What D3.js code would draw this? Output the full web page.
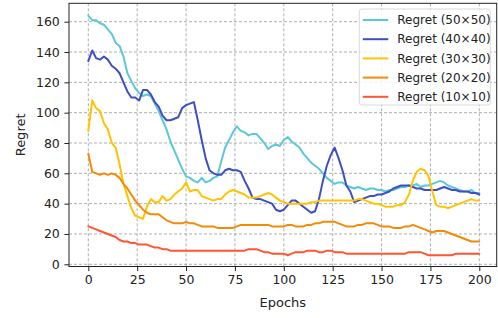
<!DOCTYPE html>
<html>
<head>
<meta charset="utf-8">
<script src="https://cdn.jsdelivr.net/npm/d3@7"></script>
<style>
  body { margin: 0; background: #fff; }
  svg { display: block; font-family: "DejaVu Sans", sans-serif; }
</style>
</head>
<body>
<svg id="chart"></svg>
<script>
// values read every 2 epochs (0, 2, ..., 200)
var epochs = d3.range(0, 201, 2);

var regret50 = [164,161,161,159,158,155,152,146,144,137,126,121,116,113,111,112,111,106,101,95,
  89,81,75,69,63,58,57,55,54,57,54,55,57,58,68,77,82,87,91,88,
  87,85,86,86,83,80,76,78,79,78,82,84,81,79,77,73,70,67,65,63,
  60,57,55,53,54,54,52,51,50,51,50,49,50,50,49,49,48,49,49,50,
  51,51,52,52,53,51,52,52,53,54,55,54,52,51,50,49,48,48,49,47,47];

var regret40 = [134,141,136,135,137,135,131,129,126,120,114,110,110,108,115,115,112,107,104,98,
  95,95,96,97,103,105,106,107,95,82,70,62,60,59,59,62,63,62,62,61,
  55,50,44,43,43,42,41,40,36,35,36,39,42,42,40,38,36,34,35,43,
  55,65,72,77,70,62,52,48,41,42,43,44,45,45,46,46,47,48,50,51,
  52,52,52,51,50,50,49,49,49,49,50,51,50,49,49,48,48,48,47,47,46];

var regret30 = [88,108,103,101,93,89,80,77,66,53,45,37,32,31,30,38,43,41,41,45,
  42,43,46,48,50,54,48,49,49,45,44,43,42,43,43,46,48,49,48,47,
  46,44,44,44,45,46,47,46,44,42,41,40,40,40,40,40,40,41,41,42,
  42,42,42,42,42,42,42,42,42,43,43,42,41,40,40,39,38,38,38,39,
  39,41,46,55,61,63,62,58,48,39,38,38,37,38,39,40,41,42,43,42,42];

var regret20 = [73,61,60,59,60,59,60,59,57,53,50,46,42,39,36,34,33,33,33,31,
  29,28,27,27,27,28,27,27,26,25,25,25,25,24,24,24,24,24,25,26,
  26,26,26,26,26,26,26,25,25,25,25,26,26,25,25,25,26,26,27,27,
  28,28,28,28,27,26,25,25,25,26,26,27,27,27,26,25,25,25,24,24,
  24,25,25,26,25,24,23,22,21,22,22,22,21,20,19,18,17,16,15,15,15];

var regret10 = [25,24,23,22,21,20,19,18,16,15,15,14,14,13,13,13,12,11,11,10,
  10,9,9,9,9,9,9,9,9,9,9,9,9,9,9,9,9,9,9,9,
  9,10,10,10,9,8,8,7,7,7,7,6,7,8,8,8,9,9,9,8,
  8,9,9,8,8,8,7,7,7,7,7,7,7,7,7,7,7,7,7,7,
  7,7,8,8,8,8,7,6,6,6,6,6,6,6,7,7,7,7,7,7,7];

var seriesNames = ["Regret (50×50)", "Regret (40×40)", "Regret (30×30)", "Regret (20×20)", "Regret (10×10)"];
var seriesValues = [regret50, regret40, regret30, regret20, regret10];
var seriesColors = ["#5cc8d7", "#3d4fc1", "#ffc400", "#f58a07", "#ff5533"];

var xTicks = [0, 25, 50, 75, 100, 125, 150, 175, 200];
var yTicks = [0, 20, 40, 60, 80, 100, 120, 140, 160];

var width = 498, height = 318;
var frame = { left: 69, right: 496.7, top: 3.3, bottom: 266.5 };

var svg = d3.select("#chart").attr("width", width).attr("height", height);

var x = d3.scaleLinear().domain([0, 200]).range([88.3, 479.3]);
var y = d3.scaleLinear().domain([0, 160]).range([264.3, 21.7]);

// grid
var grid = svg.append("g");
grid.selectAll(".gx").data(xTicks).enter().append("line")
  .attr("x1", function(d){ return x(d); }).attr("x2", function(d){ return x(d); })
  .attr("y1", frame.top).attr("y2", frame.bottom)
  .attr("stroke", "#9a9a9a").attr("stroke-width", 0.8).attr("stroke-dasharray", "3,2");
grid.selectAll(".gy").data(yTicks).enter().append("line")
  .attr("y1", function(d){ return y(d); }).attr("y2", function(d){ return y(d); })
  .attr("x1", frame.left).attr("x2", frame.right)
  .attr("stroke", "#9a9a9a").attr("stroke-width", 0.8).attr("stroke-dasharray", "3,2");

// lines
var line = d3.line()
  .x(function(d){ return x(d[0]); })
  .y(function(d){ return y(d[1]); });

var plot = svg.append("g");
seriesValues.forEach(function(vals, i){
  var pts = epochs.map(function(e, j){ return [e, vals[j]]; });
  plot.append("path")
    .attr("d", line(pts))
    .attr("fill", "none")
    .attr("stroke", seriesColors[i])
    .attr("stroke-width", 2)
    .attr("stroke-linejoin", "round")
    .attr("stroke-linecap", "round");
});

// axes
var xAxis = d3.axisBottom(x).tickValues(xTicks).tickSize(4.6).tickPadding(4.4);
var yAxis = d3.axisLeft(y).tickValues(yTicks).tickSize(4.6).tickPadding(4.6);

var gx = svg.append("g").attr("transform", "translate(0," + frame.bottom + ")").call(xAxis);
var gy = svg.append("g").attr("transform", "translate(" + frame.left + ",0)").call(yAxis);
[gx, gy].forEach(function(g){
  g.select(".domain").remove();
  g.selectAll("text").attr("font-size", 12.5).attr("fill", "#222")
    .attr("font-family", "DejaVu Sans, sans-serif");
  g.selectAll("line").attr("stroke", "#222").attr("stroke-width", 1);
});

svg.append("rect")
  .attr("x", frame.left).attr("y", frame.top)
  .attr("width", frame.right - frame.left).attr("height", frame.bottom - frame.top)
  .attr("fill", "none").attr("stroke", "#222").attr("stroke-width", 1);

svg.append("text")
  .attr("x", (frame.left + frame.right) / 2).attr("y", 307)
  .attr("text-anchor", "middle").attr("font-size", 13).attr("fill", "#222")
  .text("Epochs");

svg.append("text")
  .attr("transform", "translate(24.5," + ((frame.top + frame.bottom) / 2) + ") rotate(-90)")
  .attr("text-anchor", "middle").attr("font-size", 13).attr("fill", "#222")
  .text("Regret");

// legend
var legend = svg.append("g").attr("transform", "translate(359.3,9)");
legend.append("rect")
  .attr("width", 131).attr("height", 96).attr("rx", 2.5)
  .attr("fill", "#fff").attr("fill-opacity", 0.85)
  .attr("stroke", "#d0d0d0").attr("stroke-width", 0.8);

var items = legend.selectAll(".item").data(seriesNames).enter().append("g")
  .attr("transform", function(d, i){ return "translate(0," + (11 + i * 19.2) + ")"; });
items.append("line")
  .attr("x1", 3.5).attr("x2", 29)
  .attr("stroke", function(d, i){ return seriesColors[i]; })
  .attr("stroke-width", 2);
items.append("text")
  .attr("x", 38).attr("dy", "0.35em")
  .attr("font-size", 12).attr("fill", "#222")
  .text(function(d){ return d; });
</script>
</body>
</html>
